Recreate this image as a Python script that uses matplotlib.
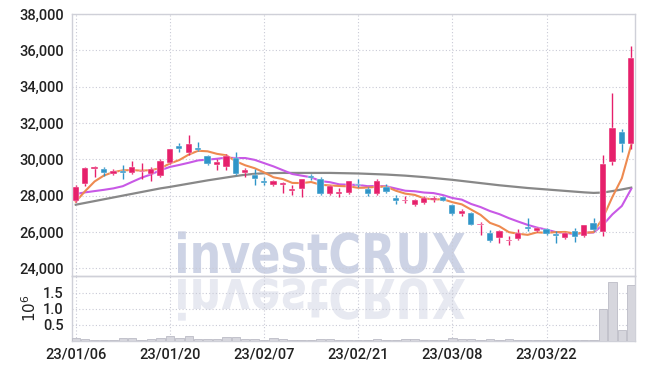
import matplotlib
matplotlib.use('Agg')
import matplotlib.pyplot as plt
import numpy as np
from matplotlib.textpath import TextPath
from matplotlib.patches import PathPatch
from matplotlib.font_manager import FontProperties
from matplotlib.transforms import Affine2D

plt.rcParams['font.family'] = ['Roboto', 'DejaVu Sans']

# trading days (index on x axis)
dates = ['01/06', '01/09', '01/10', '01/11', '01/12', '01/13', '01/16', '01/17', '01/18', '01/19',
         '01/20', '01/25', '01/26', '01/27', '01/30', '01/31', '02/01', '02/02', '02/03', '02/06',
         '02/07', '02/08', '02/09', '02/10', '02/13', '02/14', '02/15', '02/16', '02/17', '02/20',
         '02/21', '02/22', '02/23', '02/24', '02/27', '02/28', '03/02', '03/03', '03/06', '03/07',
         '03/08', '03/09', '03/10', '03/13', '03/14', '03/15', '03/16', '03/17', '03/20', '03/21',
         '03/22', '03/23', '03/24', '03/27', '03/28', '03/29', '03/30', '03/31', '04/03', '04/04']

opens = [27700, 28650, 29480, 29450, 29200, 29370, 29260, 29300, 29200, 29080,
         29820, 30720, 30370, 30600, 30170, 29710, 29580, 30070, 29260, 29160,
         28830, 28600, 28560, 28240, 28370, 29060, 28890, 28070, 28080, 28150,
         28620, 28370, 28100, 28500, 27870, 27710, 27500, 27580, 27780, 27940,
         27510, 26980, 27020, 26380, 25940, 25640, 25480, 25590, 26290, 26060,
         26150, 25910, 25650, 26080, 25750, 26520, 25980, 29850, 31480, 30820]
highs = [28600, 29600, 29650, 29560, 29480, 29670, 29890, 29820, 29550, 30040,
         30590, 30920, 31330, 30980, 30260, 30000, 30310, 30400, 29540, 29480,
         29020, 28850, 28740, 28590, 28930, 29200, 29000, 28600, 28400, 28830,
         28930, 28500, 28900, 28650, 28050, 28000, 27800, 27960, 27980, 28000,
         27560, 27260, 27100, 26570, 26100, 26090, 25780, 26150, 26760, 26280,
         26220, 26060, 26000, 26200, 26380, 26760, 30230, 33650, 31650, 36220]
lows = [27630, 28550, 29050, 29070, 29110, 28890, 29200, 28920, 28780, 29020,
        29760, 30400, 30220, 30480, 29700, 29400, 29390, 29150, 29020, 28560,
        28560, 28550, 28150, 28040, 27940, 28850, 28050, 28040, 27910, 28100,
        28460, 27980, 28050, 28150, 27550, 27600, 27450, 27520, 27640, 27700,
        26960, 26880, 26380, 25830, 25440, 25400, 25260, 25560, 26060, 26020,
        25850, 25410, 25600, 25450, 25700, 26060, 25780, 29660, 30400, 30540]
closes = [28450, 29500, 29570, 29250, 29350, 29260, 29600, 29370, 29450, 29890,
          30550, 30560, 30830, 30520, 29740, 29850, 30160, 29200, 29390, 28930,
          28700, 28830, 28680, 28370, 28890, 28980, 28070, 28510, 28220, 28780,
          28570, 28100, 28790, 28190, 27690, 27770, 27770, 27850, 27870, 27730,
          26980, 27170, 26400, 26440, 25500, 26060, 25560, 25940, 26150, 26200,
          25880, 25800, 25950, 25730, 26370, 26100, 29730, 31740, 30830, 35600]

ma5 = [27670, 28250, 28780, 29110, 29300, 29390, 29410, 29370, 29410, 29510,
       29770, 29960, 30260, 30470, 30440, 30300, 30220, 29890, 29670, 29510,
       29280, 29010, 28910, 28700, 28690, 28750, 28600, 28560, 28530, 28510,
       28430, 28440, 28490, 28490, 28270, 28110, 28040, 27850, 27790, 27800,
       27640, 27520, 27230, 26940, 26500, 26310, 25990, 25900, 25840, 25980,
       25950, 25990, 26000, 25910, 25950, 25990, 26780, 27930, 28950, 30800]
ma10 = [28090, 28180, 28250, 28320, 28400, 28520, 28760, 28990, 29170, 29400,
        29580, 29690, 29810, 29940, 29980, 30030, 30090, 30070, 30070, 29970,
        29790, 29610, 29400, 29190, 29100, 29010, 28800, 28740, 28620, 28600,
        28590, 28520, 28530, 28510, 28390, 28270, 28240, 28170, 28140, 28030,
        27870, 27780, 27540, 27370, 27150, 26980, 26760, 26570, 26390, 26240,
        26130, 25990, 25950, 25880, 25960, 25970, 26390, 26970, 27430, 28370]
ma60 = [27500, 27600, 27700, 27800, 27900, 28000, 28100, 28200, 28300, 28400,
        28480, 28570, 28660, 28750, 28840, 28920, 29000, 29080, 29150, 29200,
        29230, 29240, 29250, 29250, 29250, 29250, 29250, 29250, 29240, 29230,
        29220, 29200, 29180, 29160, 29130, 29100, 29060, 29020, 28970, 28920,
        28870, 28810, 28750, 28690, 28630, 28570, 28520, 28470, 28420, 28380,
        28340, 28300, 28260, 28220, 28180, 28150, 28170, 28250, 28340, 28440]

# volume in millions of shares
volume = [0.08, 0.05, 0.04, 0.04, 0.04, 0.08, 0.08, 0.03, 0.07, 0.08,
          0.15, 0.09, 0.15, 0.05, 0.06, 0.05, 0.12, 0.12, 0.05, 0.05,
          0.04, 0.09, 0.06, 0.04, 0.04, 0.03, 0.06, 0.06, 0.04, 0.03,
          0.03, 0.03, 0.06, 0.03, 0.03, 0.06, 0.05, 0.03, 0.03, 0.04,
          0.10, 0.05, 0.05, 0.04, 0.05, 0.04, 0.05, 0.03, 0.02, 0.02,
          0.02, 0.02, 0.02, 0.02, 0.02, 0.02, 1.00, 1.83, 0.33, 1.75]

price_ticks = [24000, 26000, 28000, 30000, 32000, 34000, 36000, 38000]
vol_ticks = [0.5, 1.0, 1.5]
date_tick_pos = [0, 10, 20, 30, 40, 50]

UP = '#E6206B'
DOWN = '#2F95C8'
GRID = '#C9CAD6'
SPINE = '#CFD0D8'
TXT = '#222222'

x = np.arange(len(dates))
o = np.array(opens)
c = np.array(closes)
colors = [UP if cc >= oo else DOWN for oo, cc in zip(o, c)]

fig = plt.figure(figsize=(6.45, 3.70), dpi=100)
fig.patch.set_facecolor('white')
ax = fig.add_axes([72/645, 1-276/370, 563/645, 262/370])
ax2 = fig.add_axes([72/645, 1-341/370, 563/645, 65/370], sharex=ax)
for a in (ax, ax2):
    a.set_facecolor('none')
    for s in a.spines.values():
        s.set_color(SPINE)
        s.set_linewidth(1)
    a.grid(True, color=GRID, linestyle=(0, (1, 2)), linewidth=0.8)
    a.set_axisbelow(True)
    a.tick_params(length=0, colors=TXT, labelsize=10.5, pad=6)
    for lab in a.get_xticklabels() + a.get_yticklabels():
        lab.set_fontweight('medium')

# moving averages
ax.plot(x, ma60, color='#888888', lw=1.6, zorder=2)
ax.plot(x, ma10, color='#C859E6', lw=1.5, zorder=2)
ax.plot(x, ma5, color='#EE8A50', lw=1.5, zorder=2)

# candles
ax.vlines(x, lows, highs, colors=colors, lw=1, zorder=3)
body = np.maximum(np.abs(c - o), 60)
ax.bar(x, body, bottom=np.minimum(o, c), width=0.66, color=colors,
       edgecolor='white', linewidth=0.3, zorder=4)

ax.set_xlim(-0.4, 59.4)
ax.set_ylim(23575, 38000)
ax.set_yticks(price_ticks)
ax.set_yticklabels([f'{t:,}' for t in price_ticks], fontweight='medium')
plt.setp(ax.get_xticklabels(), visible=False)

ax2.bar(x, volume, width=0.9, color='#D6D6DD', edgecolor='#BCBCC6', linewidth=0.6, zorder=3)
ax2.set_ylim(0, 2.03)
ax2.set_yticks(vol_ticks)
ax2.set_yticklabels(['0.5', '1.0', '1.5'], fontweight='medium')
ax2.set_xticks(date_tick_pos)
ax2.set_xticklabels(['23/' + dates[i] for i in date_tick_pos], fontweight='medium')
ax2.tick_params(axis='x', pad=5)
ax2.set_ylabel('$10^{6}$', fontsize=11, color=TXT, family='DejaVu Sans', labelpad=3)

# watermark with reflection
fp = FontProperties(family='DejaVu Sans', weight='bold')
tp = TextPath((0, 0), 'investCRUX', size=1, prop=fp)
ext = tp.get_extents()
sx = 287 / ext.width
sy = 40 / 0.73
x0, base = 178, 370 - 273
tr = Affine2D().translate(-ext.x0, 0).scale(sx / 645, sy / 370).translate(x0 / 645, base / 370) + fig.transFigure
fig.add_artist(PathPatch(tp, transform=tr, facecolor='#CDD3E5', edgecolor='none', zorder=-1))
base2 = 370 - 279
tr2 = Affine2D().translate(-ext.x0, 0).scale(sx / 645, -sy / 370).translate(x0 / 645, base2 / 370) + fig.transFigure
fig.add_artist(PathPatch(tp, transform=tr2, facecolor='#E7E9F1', edgecolor='none', zorder=-1))

fig.savefig('out.png', dpi=100)
